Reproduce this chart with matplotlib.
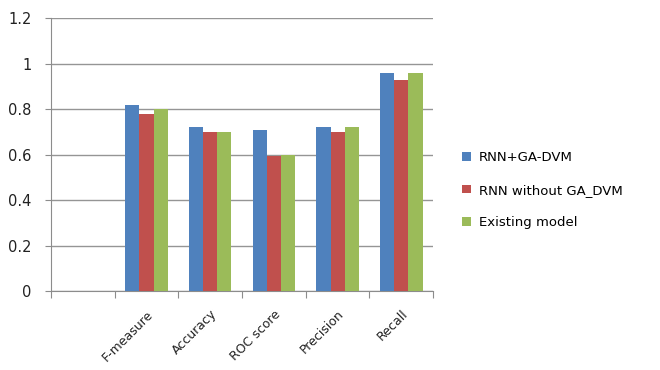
import numpy as np
import matplotlib.pyplot as plt

# metric names (first slot of the category axis is left empty)
categories = ["", "F-measure", "Accuracy", "ROC score", "Precision", "Recall"]
series_names = ["RNN+GA-DVM", "RNN without GA_DVM", "Existing model"]
rnn_ga_dvm = [np.nan, 0.82, 0.72, 0.71, 0.72, 0.96]
rnn_no_ga = [np.nan, 0.78, 0.70, 0.595, 0.70, 0.93]
existing = [np.nan, 0.80, 0.70, 0.60, 0.72, 0.96]
colors = ["#4F81BD", "#C0504D", "#9BBB59"]

fig = plt.figure(figsize=(6.6, 3.7), dpi=100)
ax = fig.add_axes([0.0773, 0.2135, 0.579, 0.737])

x = np.arange(len(categories)) + 0.5
w = 0.222
for i, (vals, name, c) in enumerate(zip([rnn_ga_dvm, rnn_no_ga, existing], series_names, colors)):
    ax.bar(x + (i - 1) * w, vals, width=w, color=c, label=name, zorder=3)

ax.set_xlim(0, len(categories))
ax.set_ylim(0, 1.2)
ax.set_yticks(np.arange(0, 1.21, 0.2))
ax.set_yticklabels(["0", "0.2", "0.4", "0.6", "0.8", "1", "1.2"])
ax.yaxis.grid(True, color="#959595", linewidth=1, zorder=0)

# ticks on category boundaries, labels at the centres
ax.set_xticks(np.arange(len(categories) + 1))
ax.set_xticklabels([])
ax.set_xticks(x, minor=True)
ax.set_xticklabels(categories, minor=True, rotation=45, ha="right",
                   rotation_mode="anchor", fontsize=9, color="#222222")
ax.tick_params(axis="x", which="minor", length=0, pad=12)
ax.tick_params(axis="x", which="major", length=5, color="#8c8c8c")
ax.tick_params(axis="y", length=4, color="#8c8c8c", labelsize=10.5, labelcolor="#222222", pad=10)

for s in ["top", "right"]:
    ax.spines[s].set_visible(False)
for s in ["left", "bottom"]:
    ax.spines[s].set_color("#8c8c8c")

ax.legend(loc="center left", bbox_to_anchor=(1.045, 0.37), frameon=False,
          fontsize=9.5, handlelength=0.65, handleheight=0.65, labelspacing=1.45,
          handletextpad=0.6)

fig.savefig("out.png", dpi=100)
